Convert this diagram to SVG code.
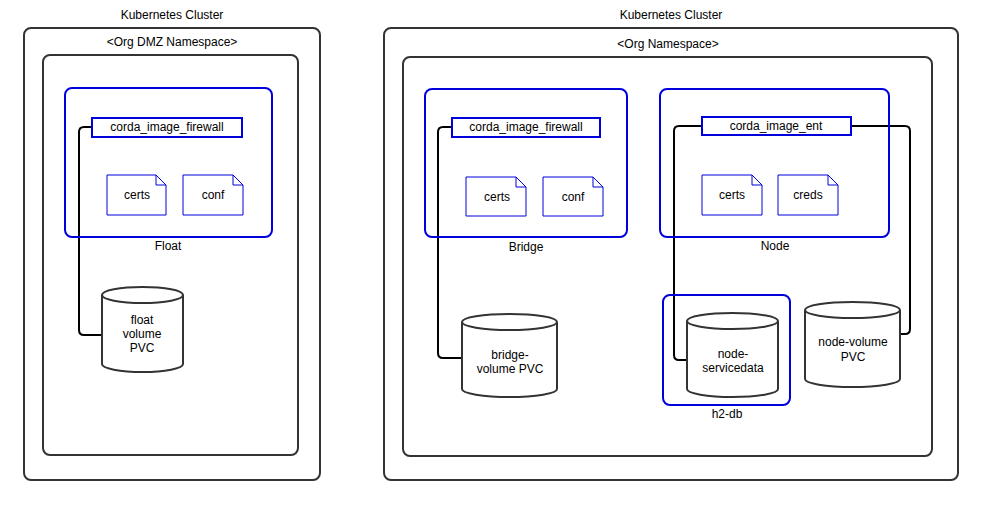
<svg xmlns="http://www.w3.org/2000/svg" width="1008" height="515" viewBox="0 0 1008 515">
<style>
text{font-family:"Liberation Sans",Arial,sans-serif;font-size:12px;fill:#000;text-anchor:middle;dominant-baseline:central}
.outer{fill:none;stroke:#333;stroke-width:2}
.blue{fill:none;stroke:#0000dd;stroke-width:2}
.img{fill:#fff;stroke:#0000dd;stroke-width:2}
.doc{fill:#fff;stroke:#0000dd;stroke-width:1}
.cyl{fill:#fff;stroke:#333;stroke-width:2}
.conn{fill:none;stroke:#000;stroke-width:2}
</style>
<rect width="1008" height="515" fill="#fff"/>
<g id="cluster1"><rect class="outer" x="24" y="28" width="296" height="452" rx="7"/><text x="172" y="15">Kubernetes Cluster</text></g>
<g id="ns1"><rect class="outer" x="43" y="55" width="255" height="400" rx="7"/><text x="172" y="42">&lt;Org DMZ Namespace&gt;</text></g>
<g id="cluster2"><rect class="outer" x="384" y="28" width="574" height="452" rx="7"/><text x="671" y="15">Kubernetes Cluster</text></g>
<g id="ns2"><rect class="outer" x="403" y="57" width="529" height="399" rx="7"/><text x="668" y="44">&lt;Org Namespace&gt;</text></g>
<g id="connectors">
<path class="conn" d="M92,127 H84 Q79,127 79,132 V330 Q79,335 84,335 H102"/>
<path class="conn" d="M452,127 H443 Q438,127 438,132 V353 Q438,358 443,358 H462"/>
<path class="conn" d="M702,126 H679 Q674,126 674,131 V355 Q674,360 679,360 H687"/>
<path class="conn" d="M851,126 H905 Q910,126 910,131 V329 Q910,334 905,334 H900"/>
</g>
<g id="float"><rect class="blue" x="65" y="88" width="207" height="149" rx="7"/><text x="168" y="246">Float</text></g>
<g id="float-img"><rect class="img" x="92" y="118" width="150" height="19"/><text x="167" y="127">corda_image_firewall</text></g>
<g id="float-certs"><path class="doc" d="M107,175 H156 L166,185 V215 H107 Z M156,175 V185 H166"/><text x="137" y="195">certs</text></g>
<g id="float-conf"><path class="doc" d="M183,175 H233 L243,185 V215 H183 Z M233,175 V185 H243"/><text x="213" y="195">conf</text></g>
<g id="float-pvc"><path class="cyl" d="M102,295 A40.5,8 0 0 1 183,295 V364 A40.5,8 0 0 1 102,364 Z"/><path class="cyl" d="M102,295 A40.5,8 0 0 0 183,295"/><text x="142" y="320">float</text><text x="142" y="334">volume</text><text x="142" y="348">PVC</text></g>
<g id="bridge"><rect class="blue" x="425" y="89" width="202" height="148" rx="7"/><text x="526" y="247">Bridge</text></g>
<g id="bridge-img"><rect class="img" x="452" y="118" width="148" height="19"/><text x="526" y="127">corda_image_firewall</text></g>
<g id="bridge-certs"><path class="doc" d="M466,177 H516 L526,187 V216 H466 Z M516,177 V187 H526"/><text x="497" y="197">certs</text></g>
<g id="bridge-conf"><path class="doc" d="M543,177 H593 L603,187 V216 H543 Z M593,177 V187 H603"/><text x="573" y="197">conf</text></g>
<g id="bridge-pvc"><path class="cyl" d="M462,322 A47.5,8 0 0 1 557,322 V389 A47.5,8 0 0 1 462,389 Z"/><path class="cyl" d="M462,322 A47.5,8 0 0 0 557,322"/><text x="510" y="355">bridge-</text><text x="510" y="369">volume PVC</text></g>
<g id="node"><rect class="blue" x="660" y="89" width="229" height="148" rx="7"/><text x="775" y="246">Node</text></g>
<g id="node-img"><rect class="img" x="702" y="117" width="149" height="18"/><text x="776" y="126">corda_image_ent</text></g>
<g id="node-certs"><path class="doc" d="M702,175 H752 L762,185 V215 H702 Z M752,175 V185 H762"/><text x="732" y="195">certs</text></g>
<g id="node-creds"><path class="doc" d="M778,175 H828 L838,185 V215 H778 Z M828,175 V185 H838"/><text x="808" y="195">creds</text></g>
<g id="h2db"><rect class="blue" x="663" y="295" width="127" height="110" rx="7"/><text x="727" y="414">h2-db</text></g>
<g id="node-servicedata"><path class="cyl" d="M687,321 A45.5,8 0 0 1 778,321 V389 A45.5,8 0 0 1 687,389 Z"/><path class="cyl" d="M687,321 A45.5,8 0 0 0 778,321"/><text x="733" y="354">node-</text><text x="733" y="368">servicedata</text></g>
<g id="node-volume"><path class="cyl" d="M805,310 A47.5,8 0 0 1 900,310 V379 A47.5,8 0 0 1 805,379 Z"/><path class="cyl" d="M805,310 A47.5,8 0 0 0 900,310"/><text x="853" y="342">node-volume</text><text x="853" y="357">PVC</text></g>
</svg>
